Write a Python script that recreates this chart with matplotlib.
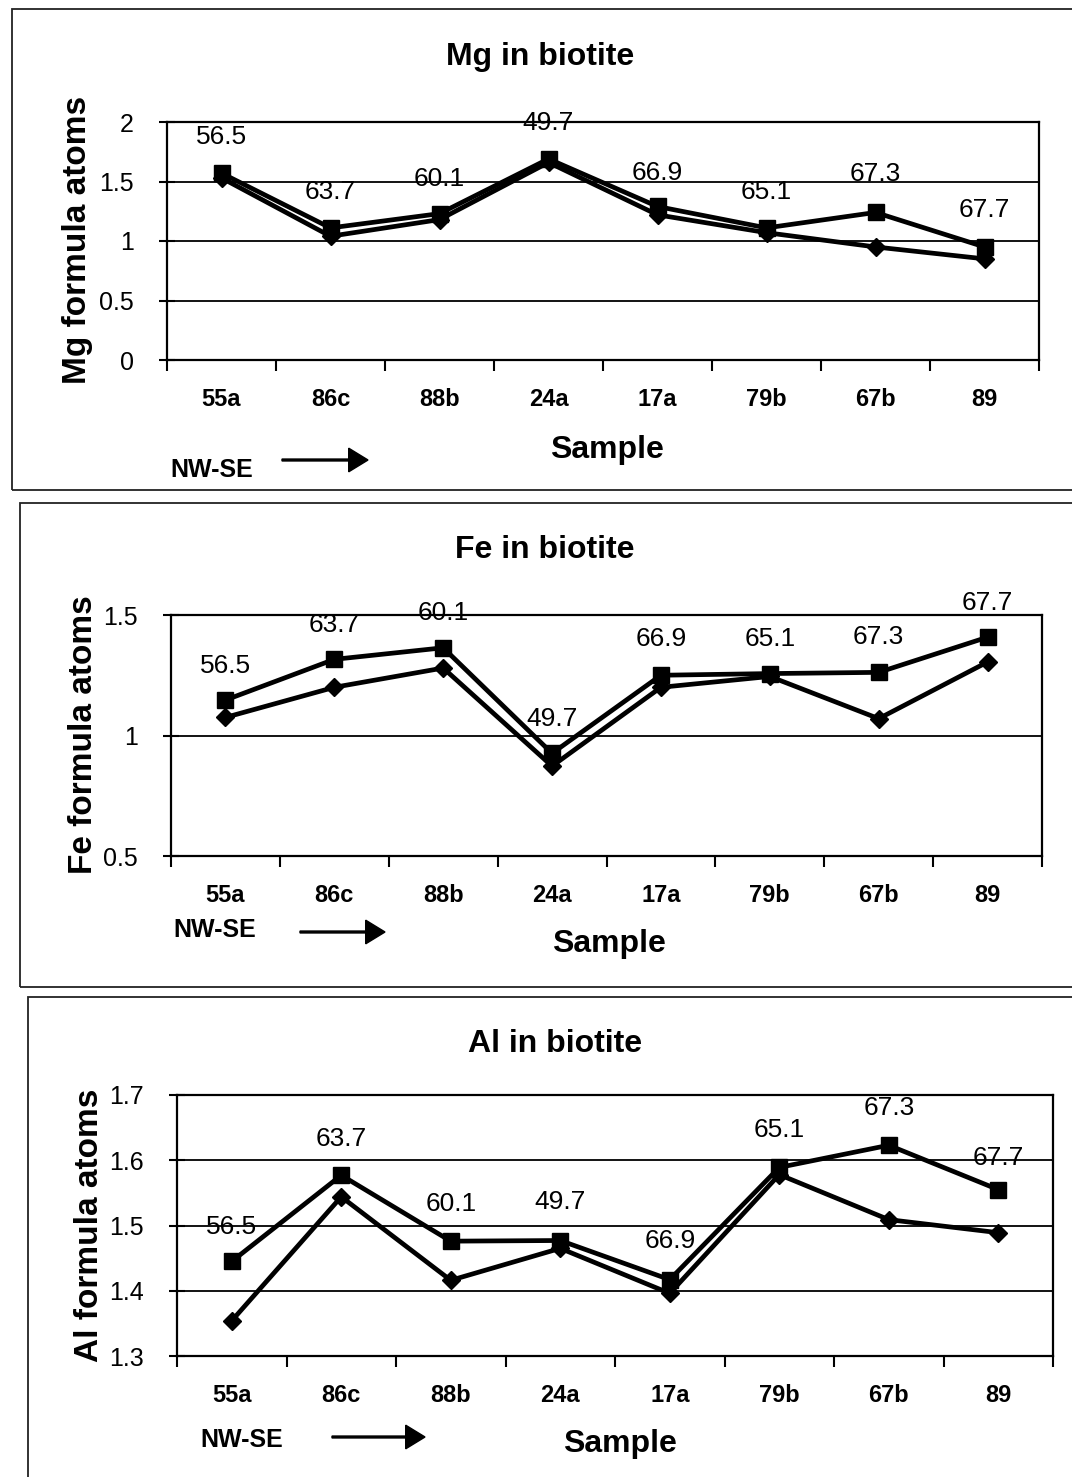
import numpy as np
import matplotlib
matplotlib.use("Agg")
import matplotlib.pyplot as plt
from matplotlib.patches import Rectangle, FancyArrow

plt.rcParams['font.family'] = ['Liberation Sans', 'DejaVu Sans']

# mostres ordenades de NW a SE
samples = ["55a", "86c", "88b", "24a", "17a", "79b", "67b", "89"]
mg_number = [56.5, 63.7, 60.1, 49.7, 66.9, 65.1, 67.3, 67.7]

# àtoms per fórmula: sèrie de rombes i sèrie de quadrats
mg_diamond = [1.53, 1.04, 1.18, 1.66, 1.22, 1.07, 0.95, 0.85]
mg_square = [1.57, 1.11, 1.23, 1.69, 1.29, 1.11, 1.24, 0.95]

fe_diamond = [1.075, 1.20, 1.28, 0.873, 1.20, 1.245, 1.07, 1.305]
fe_square = [1.147, 1.316, 1.364, 0.926, 1.25, 1.257, 1.262, 1.408]

al_diamond = [1.354, 1.544, 1.416, 1.465, 1.396, 1.578, 1.509, 1.489]
al_square = [1.445, 1.577, 1.476, 1.477, 1.417, 1.589, 1.623, 1.555]

# alçada de les etiquetes Mg# dins de cada gràfic
mg_label_y = [1.87, 1.41, 1.52, 1.99, 1.57, 1.41, 1.56, 1.26]
fe_label_y = [1.29, 1.46, 1.51, 1.07, 1.40, 1.40, 1.41, 1.55]
al_label_y = [1.498, 1.633, 1.533, 1.536, 1.477, 1.647, 1.68, 1.603]

W, H = 1072, 1477
fig = plt.figure(figsize=(W / 100, H / 100), dpi=100)


def fx(x):
    return x / W


def fy(y):
    return 1 - y / H


def panel(frame, box, title, title_xy, ylabel, ylabel_xy, diamonds, squares,
          label_y, ylim, yticks, ytick_txt, sample_xy, nwse_xy, arrow_x, arrow_y):
    # marc exterior del gràfic
    x0, y0, x1, y1 = frame
    fig.patches.append(Rectangle((fx(x0), fy(y1)), fx(x1) - fx(x0), fy(y0) - fy(y1),
                                 transform=fig.transFigure, fill=False,
                                 edgecolor="#222222", linewidth=1.3))

    l, t, r, b = box
    ax = fig.add_axes([fx(l), fy(b), fx(r) - fx(l), fy(t) - fy(b)])
    x = np.arange(len(samples))

    ax.plot(x, diamonds, color="black", linewidth=3.4, marker="D", markersize=9.5,
            zorder=3)
    ax.plot(x, squares, color="black", linewidth=3.4, marker="s", markersize=11,
            zorder=4)

    for i, val in enumerate(mg_number):
        ax.text(i, label_y[i], f"{val:.1f}", ha="center", va="center",
                fontsize=19, zorder=5)

    ax.set_xlim(-0.5, len(samples) - 0.5)
    ax.set_ylim(*ylim)
    ax.set_yticks(yticks)
    ax.set_yticklabels(ytick_txt, fontsize=18)
    ax.set_xticks(x)
    ax.set_xticklabels(samples, fontsize=17, fontweight="bold")
    ax.set_xticks(np.arange(-0.5, len(samples), 1), minor=True)
    ax.tick_params(axis="x", which="major", length=0, pad=20)
    ax.tick_params(axis="x", which="minor", length=8, width=1.5, direction="out")
    ax.tick_params(axis="y", length=12, width=1.5, direction="inout", pad=18)
    ax.grid(axis="y", color="black", linewidth=1.3)
    ax.set_axisbelow(True)
    for s in ax.spines.values():
        s.set_linewidth(1.6)

    fig.text(fx(title_xy[0]), fy(title_xy[1]), title, ha="center", va="center",
             fontsize=23, fontweight="bold")
    fig.text(fx(ylabel_xy[0]), fy(ylabel_xy[1]), ylabel, ha="center", va="center",
             rotation=90, fontsize=24, fontweight="bold")
    fig.text(fx(sample_xy[0]), fy(sample_xy[1]), "Sample", ha="center", va="center",
             fontsize=23, fontweight="bold")
    fig.text(fx(nwse_xy[0]), fy(nwse_xy[1]), "NW-SE", ha="center", va="center",
             fontsize=18, fontweight="bold")
    fig.patches.append(FancyArrow(fx(arrow_x[0]), fy(arrow_y), fx(arrow_x[1] - arrow_x[0]), 0,
                                  width=0.0013, head_width=0.016, head_length=0.018,
                                  length_includes_head=True, color="black",
                                  transform=fig.transFigure))
    return ax


panel((12, 9, 1080, 490), (167, 122, 1039, 360), "Mg in biotite", (540, 57),
      "Mg formula atoms", (78, 240), mg_diamond, mg_square, mg_label_y,
      (0, 2), [0, 0.5, 1, 1.5, 2], ["0", "0.5", "1", "1.5", "2"],
      (607, 450), (212, 470), (282, 368), 460)

panel((20, 503, 1080, 987), (171, 615, 1042, 856), "Fe in biotite", (545, 550),
      "Fe formula atoms", (84, 735), fe_diamond, fe_square, fe_label_y,
      (0.5, 1.5), [0.5, 1, 1.5], ["0.5", "1", "1.5"],
      (609, 944), (215, 930), (300, 385), 932)

panel((28, 997, 1080, 1490), (177, 1095, 1053, 1356), "Al in biotite", (555, 1044),
      "Al formula atoms", (90, 1225), al_diamond, al_square, al_label_y,
      (1.3, 1.7), [1.3, 1.4, 1.5, 1.6, 1.7], ["1.3", "1.4", "1.5", "1.6", "1.7"],
      (620, 1444), (242, 1440), (332, 425), 1437)

fig.savefig("out.png", dpi=100)
